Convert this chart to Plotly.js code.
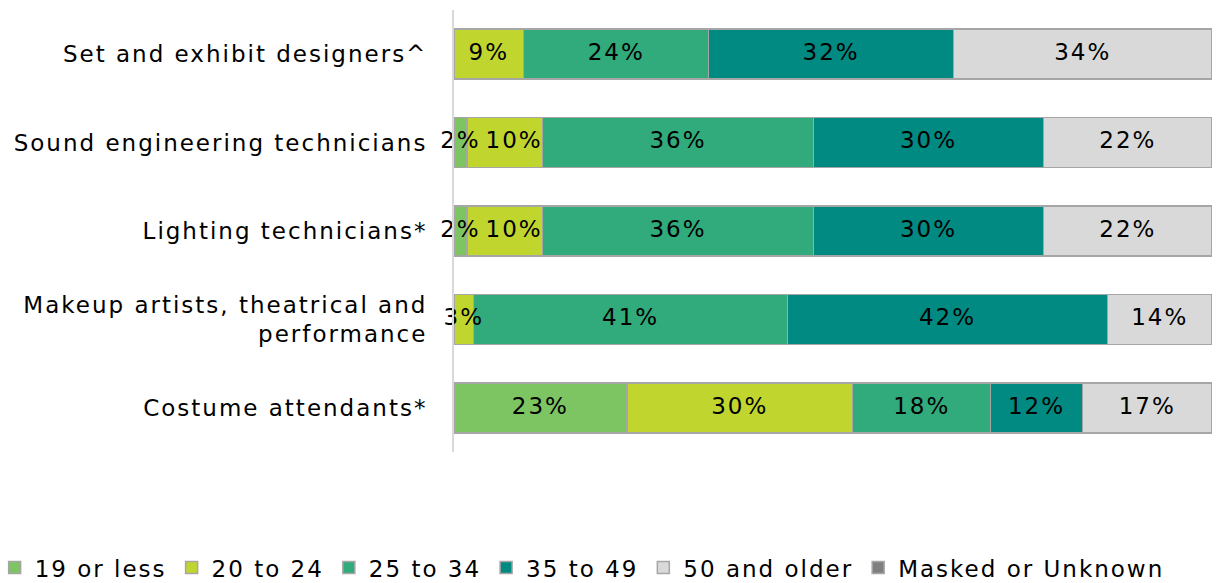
<!DOCTYPE html>
<html>
<head>
<meta charset="utf-8">
<script src="https://cdn.plot.ly/plotly-3.0.1.min.js"></script>
<style>
  html, body { margin: 0; padding: 0; background: #fff; }
  #chart { width: 1222px; height: 583px; }
  svg text { letter-spacing: 2px; }
</style>
</head>
<body>
<div id="chart"></div>
<script>
const categories = [
  "Set and exhibit designers^",
  "Sound engineering technicians",
  "Lighting technicians*",
  "Makeup artists, theatrical and<br>performance",
  "Costume attendants*"
];
const seriesNames = ["19 or less", "20 to 24", "25 to 34", "35 to 49", "50 and older", "Masked or Unknown"];
const age19OrLess   = [0,     0.017, 0.017, 0,     0.228];
const age20to24     = [0.092, 0.100, 0.100, 0.026, 0.298];
const age25to34     = [0.244, 0.357, 0.357, 0.414, 0.182];
const age35to49     = [0.323, 0.304, 0.304, 0.422, 0.121];
const age50AndOlder = [0.341, 0.222, 0.222, 0.138, 0.171];
const maskedUnknown = [0,     0,     0,     0,     0];
const colors = ["#7DC462", "#C0D62F", "#31AA7C", "#008A82", "#D9D9D9", "#7F7F7F"];

const allSeries = [age19OrLess, age20to24, age25to34, age35to49, age50AndOlder, maskedUnknown];
const FONT = "DejaVu Sans";
const FS = 23;

const traces = allSeries.map((vals, i) => ({
  type: "bar",
  orientation: "h",
  name: seriesNames[i],
  legendgroup: "g" + i,
  y: categories,
  x: vals,
  marker: { color: colors[i], line: { color: "#A6A6A6", width: 1.5 } },
  hoverinfo: "name+x"
}));

// label layer drawn above all bars; a label that follows a tiny segment is
// right-aligned to its own segment end so the two labels don't collide
const labX = [], labY = [], labT = [], labPos = [];
const cum = categories.map(() => 0);
const prev = categories.map(() => 0);
allSeries.forEach(vals => {
  vals.forEach((v, j) => {
    if (v > 0) {
      const afterTiny = prev[j] > 0 && prev[j] < 0.02;
      labX.push(afterTiny ? cum[j] + v : cum[j] + v / 2);
      labPos.push(afterTiny ? "middle left" : "middle center");
      labY.push(categories[j]);
      labT.push(Math.round(v * 100) + "%");
      prev[j] = v;
    }
    cum[j] += v;
  });
});
traces.push({
  type: "scatter",
  mode: "text",
  x: labX,
  y: labY,
  text: labT,
  textposition: labPos,
  textfont: { family: FONT, size: FS, color: "#000" },
  cliponaxis: false,
  showlegend: false,
  hoverinfo: "skip"
});

const layout = {
  width: 1222,
  height: 583,
  barmode: "stack",
  bargap: 0.434,
  margin: { l: 454, r: 10, t: 10, b: 131, autoexpand: false },
  paper_bgcolor: "#fff",
  plot_bgcolor: "#fff",
  font: { family: FONT, size: FS, color: "#000" },
  xaxis: { range: [0, 1], visible: false, fixedrange: true },
  yaxis: {
    autorange: "reversed",
    showline: true,
    linecolor: "#D9D9D9",
    linewidth: 2,
    ticks: "",
    showgrid: false,
    zeroline: false,
    ticklabelstandoff: 20,
    tickfont: { family: FONT, size: FS, color: "#000" }
  },
  legend: {
    orientation: "h",
    x: -0.606, y: -0.213,
    xanchor: "left", yanchor: "top",
    font: { family: FONT, size: FS, color: "#000" },
    traceorder: "grouped",
    tracegroupgap: 22,
    itemwidth: 30
  },
  showlegend: true
};

Plotly.newPlot("chart", traces, layout, { displayModeBar: false, staticPlot: true });
</script>
</body>
</html>
